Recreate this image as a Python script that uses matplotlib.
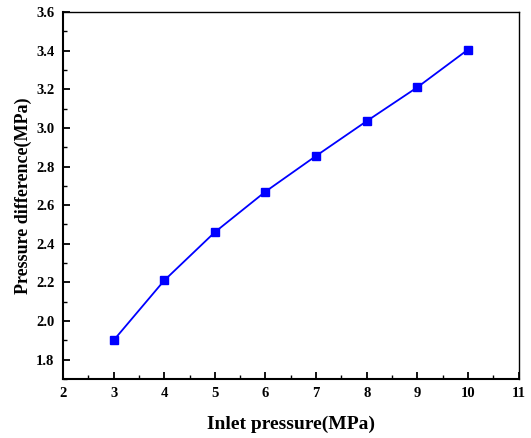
import matplotlib
matplotlib.use("Agg")
import matplotlib.pyplot as plt
from matplotlib.ticker import MultipleLocator

# data
inlet_pressure = [3, 4, 5, 6, 7, 8, 9, 10]
pressure_diff = [1.90, 2.21, 2.46, 2.67, 2.855, 3.035, 3.21, 3.405]

plt.rcParams['font.family'] = ['Liberation Serif', 'DejaVu Serif']
plt.rcParams['font.weight'] = 'bold'

fig = plt.figure(figsize=(5.31, 4.38), dpi=100)
ax = fig.add_axes([0.1186, 0.1347, 0.858, 0.838])

ax.plot(inlet_pressure, pressure_diff, color='blue', linewidth=1.3,
        marker='s', markersize=6, markerfacecolor='blue', markeredgecolor='blue')

ax.set_xlim(2, 11)
ax.set_ylim(1.7, 3.6)
ax.xaxis.set_major_locator(MultipleLocator(1))
ax.xaxis.set_minor_locator(MultipleLocator(0.5))
ax.yaxis.set_minor_locator(MultipleLocator(0.1))
ax.set_yticks([1.8, 2.0, 2.2, 2.4, 2.6, 2.8, 3.0, 3.2, 3.4, 3.6])
ax.set_yticklabels(['%.1f' % v for v in ax.get_yticks()])

ax.tick_params(which='both', direction='in', top=False, right=False, labelsize=10.5)
ax.tick_params(which='major', length=5, width=1.3, pad=6)
ax.tick_params(which='minor', length=3, width=1.0)
for lbl in ax.get_xticklabels() + ax.get_yticklabels():
    lbl.set_fontweight('bold')

ax.spines['left'].set_linewidth(1.5)
ax.spines['bottom'].set_linewidth(1.5)
ax.spines['top'].set_linewidth(1.0)
ax.spines['right'].set_linewidth(1.0)

ax.set_xlabel("Inlet pressure(MPa)", fontsize=14, fontweight='bold', labelpad=11)
ax.set_ylabel("Pressure difference(MPa)", fontsize=13, fontweight='bold', labelpad=3)

fig.savefig("out.png", dpi=100)
